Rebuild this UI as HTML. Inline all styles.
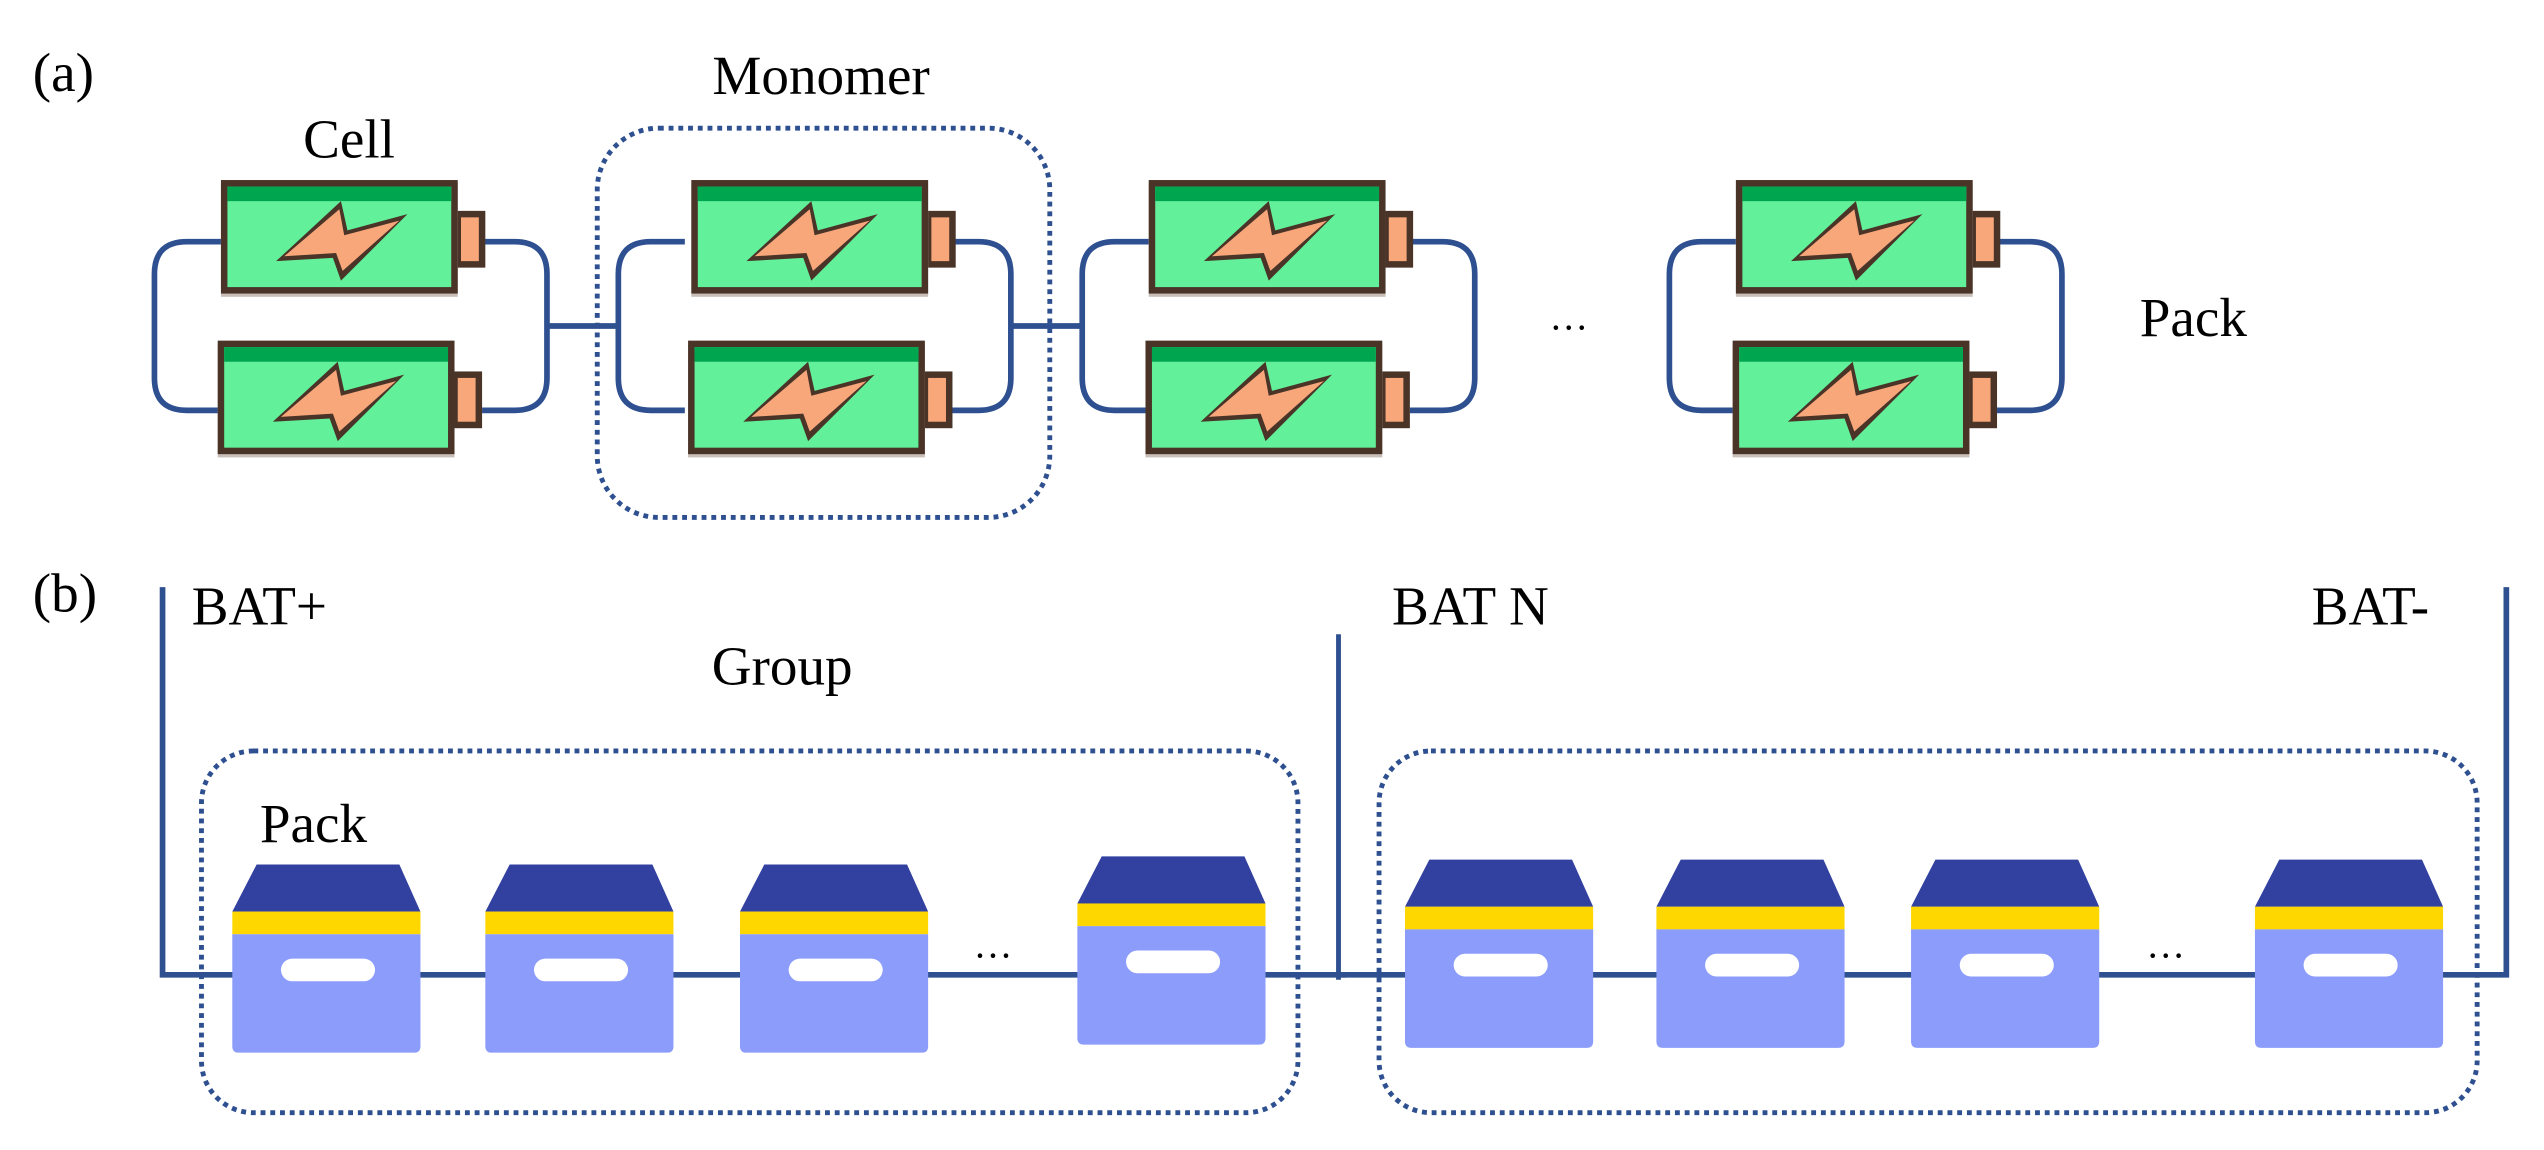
<!DOCTYPE html>
<html><head><meta charset="utf-8"><style>
html,body{margin:0;padding:0;background:#fff;}
svg{display:block;}
text{font-family:"Liberation Serif",serif;fill:#000;}
</style></head><body>
<svg width="2544" height="1150" viewBox="0 0 1568 709" xmlns="http://www.w3.org/2000/svg">
<defs>
<g id="bat">
  <rect x="0" y="2" width="146" height="70" fill="#c9bfb8"/>
  <rect x="146" y="19" width="17" height="35" fill="#4a3428"/>
  <rect x="148" y="23" width="11" height="27" fill="#f8a77a"/>
  <rect x="0" y="0" width="146" height="70" fill="#4a3428"/>
  <rect x="4" y="4" width="138" height="62" fill="#62f09a"/>
  <rect x="4" y="4" width="138" height="9" fill="#00a550"/>
  <polygon points="74,13 78,31 115,21 74,62 69,48 34,50" fill="#4a3428"/>
  <polygon points="73,18 76,34 110,25 75,56 71,45 39,47" fill="#f8a77a"/>
</g>
<g id="pk">
  <polygon points="15,0 103,0 116,29 0,29" fill="#3240a0"/>
  <rect x="0" y="29" width="116" height="14" fill="#ffd700"/>
  <path d="M0,43 H116 V112 Q116,116 112,116 H4 Q0,116 0,112 Z" fill="#8b9cfa"/>
  <rect x="30" y="58" width="58" height="14" rx="7" fill="#fff"/>
</g>
<g id="loop">
  <path d="M41,38 H20 Q0,38 0,58 V122 Q0,142 20,142 H41" fill="none" stroke="#2e5090" stroke-width="3.5"/>
  <path d="M202,38 H222 Q242,38 242,58 V122 Q242,142 222,142 H202" fill="none" stroke="#2e5090" stroke-width="3.5"/>
</g>
</defs>

<text x="20" y="56" font-size="34">(a)</text>
<text x="215" y="97" font-size="34" text-anchor="middle">Cell</text>
<text x="506" y="58" font-size="34" text-anchor="middle">Monomer</text>
<text x="1319" y="207" font-size="34">Pack</text>
<text x="955" y="210" font-size="24">···</text>

<g transform="translate(95,111)"><use href="#loop"/><use href="#bat" x="41" y="0"/><use href="#bat" x="39" y="99"/></g>
<g transform="translate(381,111)"><use href="#loop"/><use href="#bat" x="45" y="0"/><use href="#bat" x="43" y="99"/></g>
<g transform="translate(667,111)"><use href="#loop"/><use href="#bat" x="41" y="0"/><use href="#bat" x="39" y="99"/></g>
<g transform="translate(1029,111)"><use href="#loop"/><use href="#bat" x="41" y="0"/><use href="#bat" x="39" y="99"/></g>
<line x1="337" y1="201" x2="381" y2="201" stroke="#2e5090" stroke-width="3.5"/>
<line x1="623" y1="201" x2="667" y2="201" stroke="#2e5090" stroke-width="3.5"/>
<rect x="368" y="79" width="279" height="240" rx="38" fill="none" stroke="#2e5090" stroke-width="3" stroke-dasharray="3,3"/>

<text x="20" y="377" font-size="34">(b)</text>
<text x="118" y="385" font-size="34">BAT+</text>
<text x="482" y="422" font-size="34" text-anchor="middle">Group</text>
<text x="160" y="519" font-size="34">Pack</text>
<text x="858" y="385" font-size="34">BAT N</text>
<text x="1425" y="385" font-size="34">BAT-</text>

<path d="M100,362 V601 H830" fill="none" stroke="#2e5090" stroke-width="3.5"/>
<line x1="825" y1="391" x2="825" y2="604" stroke="#2e5090" stroke-width="3"/>
<path d="M825,601 H1545 V362" fill="none" stroke="#2e5090" stroke-width="3.5"/>

<rect x="124" y="463" width="676" height="223" rx="32" fill="none" stroke="#2e5090" stroke-width="3" stroke-dasharray="3,3"/>
<rect x="850" y="463" width="677" height="223" rx="32" fill="none" stroke="#2e5090" stroke-width="3" stroke-dasharray="3,3"/>

<use href="#pk" x="143" y="533"/>
<use href="#pk" x="299" y="533"/>
<use href="#pk" x="456" y="533"/>
<use href="#pk" x="664" y="528"/>
<use href="#pk" x="866" y="530"/>
<use href="#pk" x="1021" y="530"/>
<use href="#pk" x="1178" y="530"/>
<use href="#pk" x="1390" y="530"/>
<text x="600" y="597" font-size="24">···</text>
<text x="1323" y="597" font-size="24">···</text>
</svg>
</body></html>
